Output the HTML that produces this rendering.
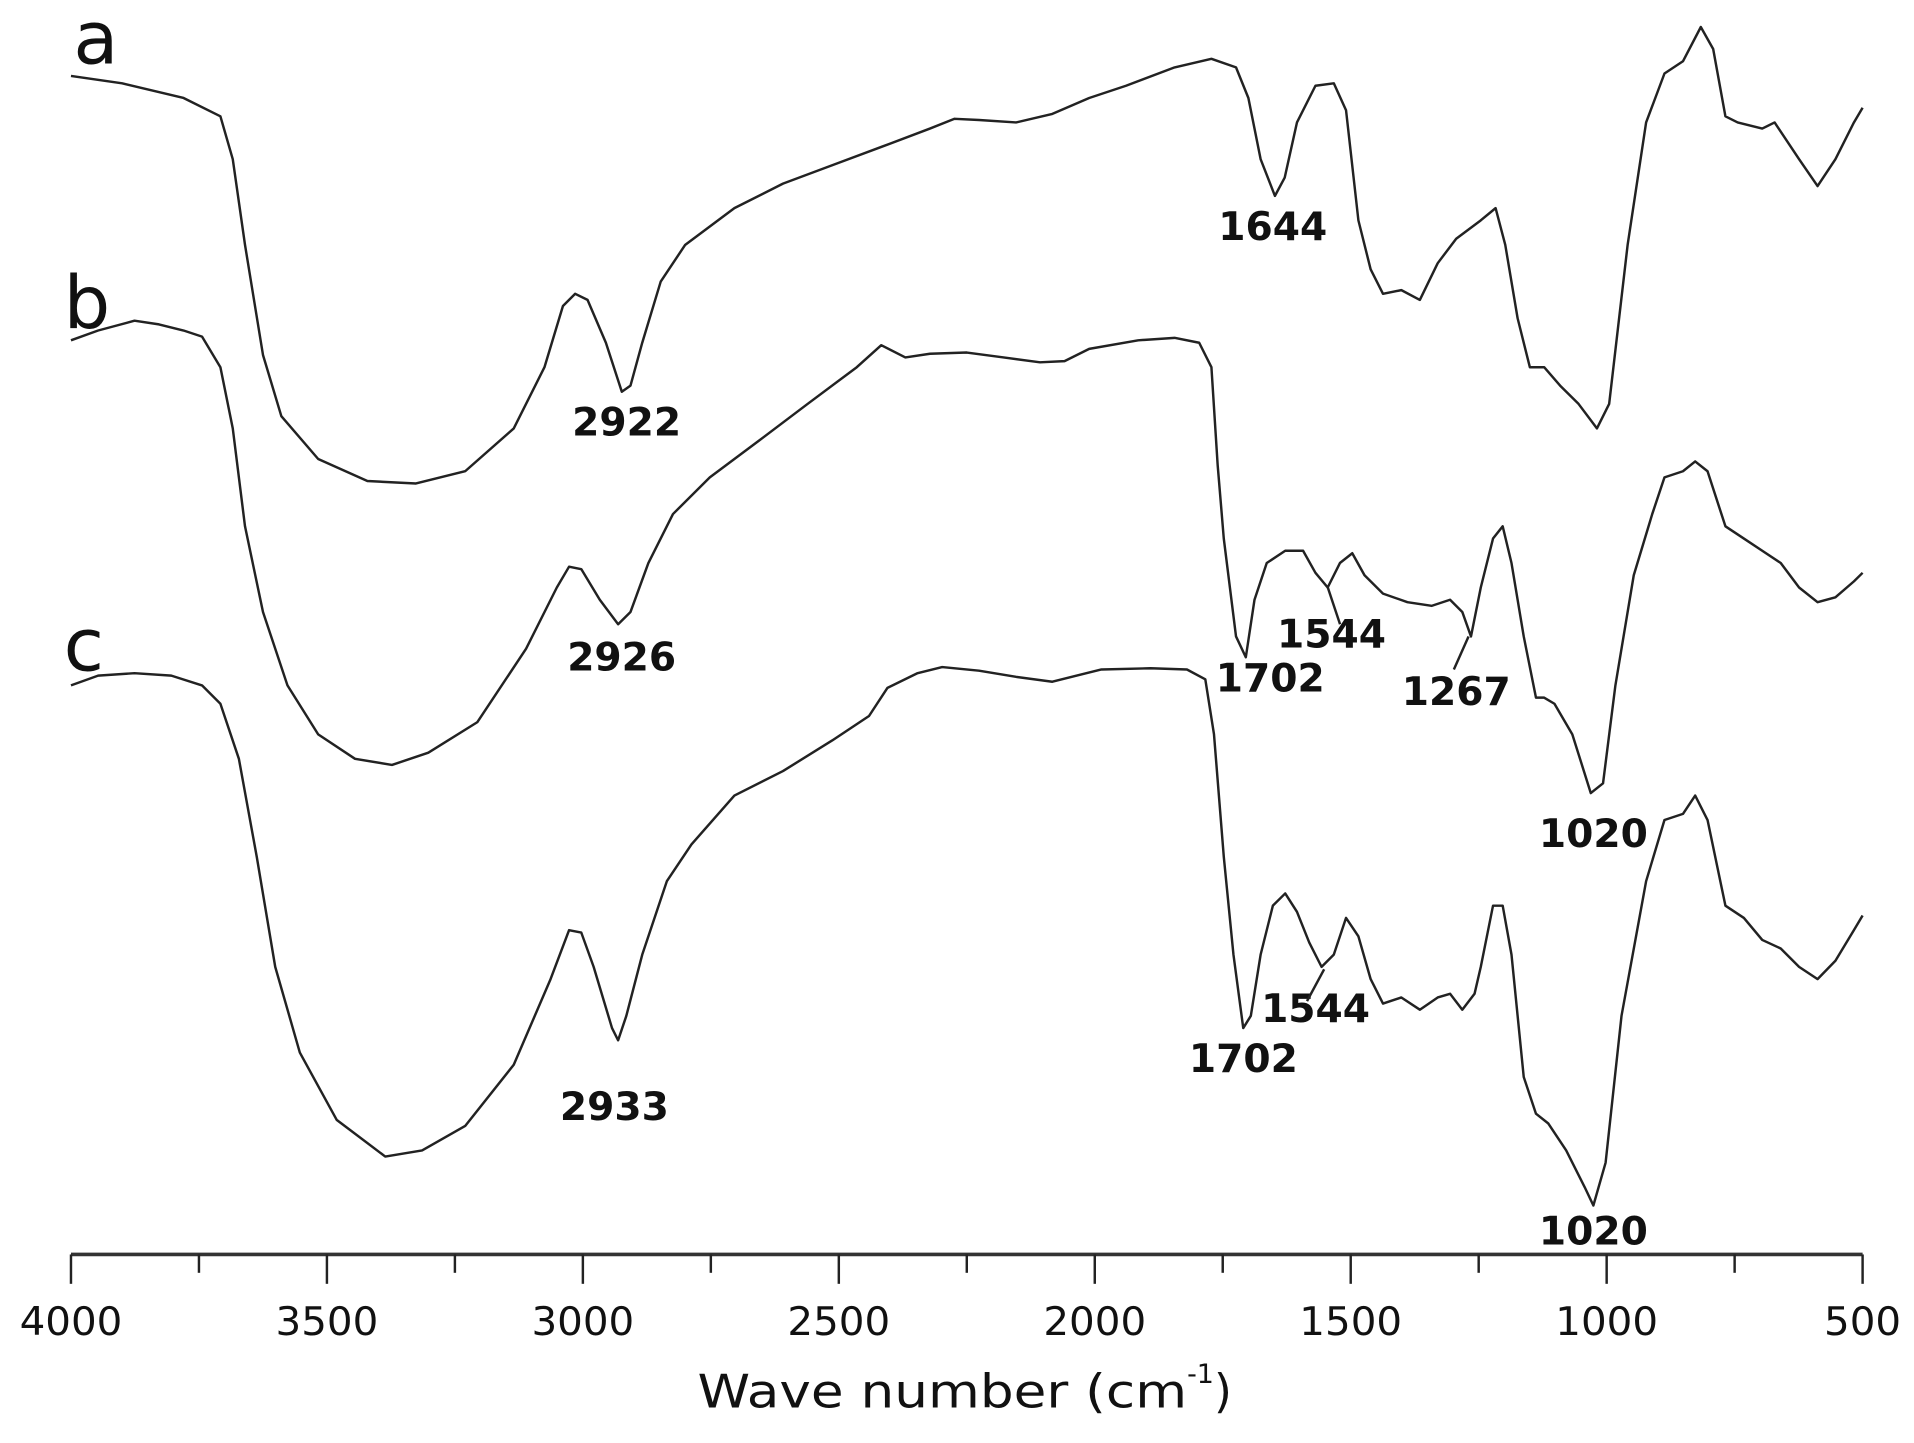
<!DOCTYPE html>
<html><head><meta charset="utf-8"><style>
html,body{margin:0;padding:0;background:#fff;}
svg{display:block;}
text{font-family:"DejaVu Sans","Liberation Sans",sans-serif;fill:#111;}
</style></head><body>
<svg id="chart" width="1914" height="1443" viewBox="0 0 1564 1179" xmlns="http://www.w3.org/2000/svg">
<g id="axis"></g>
<g id="series"></g>
<g id="labels"></g>
</svg>
<script>
const tickValues=[4000,3500,3000,2500,2000,1500,1000,500];
const minorTicks=[3750,3250,2750,2250,1750,1250,750];
const wnA=[4000,3900,3780,3708,3684,3660,3625,3589,3517,3421,3326,3230,3135,3075,3039,3015,2991,2955,2924,2907,2884,2848,2800,2704,2609,2513,2417,2322,2274,2226,2154,2083,2011,1939,1844,1772,1724,1700,1676,1648,1629,1605,1569,1533,1509,1485,1461,1437,1401,1365,1330,1294,1246,1217,1198,1174,1150,1122,1091,1055,1019,995,959,923,887,851,816,792,768,744,696,672,648,624,588,553,517,500];
const valA=[96.3,95.7,94.5,93,89.5,82.5,73.5,68.5,65,63.2,63,64,67.5,72.5,77.5,78.5,78,74.5,70.5,71,74.5,79.5,82.5,85.5,87.5,89,90.5,92,92.8,92.7,92.5,93.2,94.5,95.5,97,97.7,97,94.5,89.5,86.5,88,92.5,95.5,95.7,93.5,84.5,80.5,78.5,78.8,78,81,83,84.5,85.5,82.5,76.5,72.5,72.5,71,69.5,67.5,69.5,82.5,92.5,96.5,97.5,100.3,98.5,93,92.5,92,92.5,91,89.5,87.3,89.5,92.5,93.7];
const wnB=[4000,3947,3876,3828,3780,3744,3708,3684,3660,3625,3577,3517,3445,3373,3302,3206,3111,3051,3027,3003,2967,2931,2907,2872,2824,2752,2656,2561,2465,2417,2370,2322,2250,2178,2107,2059,2011,1915,1844,1796,1772,1760,1748,1724,1705,1688,1664,1628,1593,1569,1545,1521,1497,1473,1437,1389,1342,1306,1282,1265,1246,1222,1203,1186,1162,1138,1122,1102,1067,1031,1007,983,947,911,887,851,827,803,768,732,696,660,624,588,553,517,500];
const valB=[74.7,75.5,76.3,76,75.5,75,72.5,67.5,59.5,52.5,46.5,42.5,40.5,40,41,43.5,49.5,54.5,56.2,56,53.5,51.5,52.5,56.5,60.5,63.5,66.5,69.5,72.5,74.3,73.3,73.6,73.7,73.3,72.9,73,74,74.7,74.9,74.5,72.5,64.5,58.5,50.5,48.8,53.5,56.5,57.5,57.5,55.7,54.5,56.5,57.3,55.5,54,53.3,53,53.5,52.5,50.5,54.5,58.5,59.5,56.5,50.5,45.5,45.5,45,42.5,37.7,38.5,46.5,55.5,60.5,63.5,64,64.8,64,59.5,58.5,57.5,56.5,54.5,53.3,53.7,55,55.7];
const wnC=[4000,3947,3876,3804,3744,3708,3672,3637,3601,3553,3481,3386,3314,3230,3135,3063,3027,3003,2979,2943,2931,2915,2884,2836,2788,2704,2609,2513,2441,2405,2346,2298,2226,2154,2083,2035,1987,1891,1820,1784,1767,1748,1729,1710,1695,1676,1652,1628,1605,1581,1557,1533,1509,1485,1461,1437,1401,1365,1330,1306,1282,1258,1246,1222,1203,1186,1162,1138,1114,1079,1043,1026,1002,971,923,887,851,827,803,768,732,696,660,624,588,553,517,500];
const valC=[46.5,47.3,47.5,47.3,46.5,45,40.5,32.5,23.5,16.5,11,8,8.5,10.5,15.5,22.5,26.5,26.3,23.5,18.5,17.5,19.5,24.5,30.5,33.5,37.5,39.5,42,44,46.3,47.5,48,47.7,47.2,46.8,47.3,47.8,47.9,47.8,47,42.5,32.5,24.5,18.5,19.5,24.5,28.5,29.5,28,25.5,23.5,24.5,27.5,26,22.5,20.5,21,20,21,21.3,20,21.3,23.5,28.5,28.5,24.5,14.5,11.5,10.7,8.5,5.5,4,7.5,19.5,30.5,35.5,36,37.5,35.5,28.5,27.5,25.7,25,23.5,22.5,24,26.5,27.7];
const peakLabels=["1644","2922","2926","1702","1544","1267","1020","2933","1702","1544","1020"];

const NS="http://www.w3.org/2000/svg";
const X0=58,X1=1522,AXY=1025;
function xs(w){return X0+(4000-w)/3500*(X1-X0);}
function ys(v){return AXY-v*10;}
function mk(tag,attrs,parent){const e=document.createElementNS(NS,tag);for(const k in attrs)e.setAttribute(k,attrs[k]);parent.appendChild(e);return e;}

const axis=document.getElementById('axis');
const al=mk('line',{x1:X0,y1:AXY,x2:X1,y2:AXY,stroke:'#333','stroke-width':3},axis);


tickValues.forEach(t=>{
  const l=mk('line',{x1:xs(t),y1:AXY,x2:xs(t),y2:AXY+24,stroke:'#222','stroke-width':2},axis);
  
  
  const s=String(t);
  const tx=mk('text',{x:xs(t),y:AXY+66,'text-anchor':'middle','font-size':32,'font-family':'Liberation Sans, sans-serif',textLength:s.length*21,lengthAdjust:'spacingAndGlyphs'},axis);
  tx.textContent=s;
  
  
});
minorTicks.forEach(t=>{
  const l=mk('line',{x1:xs(t),y1:AXY,x2:xs(t),y2:AXY+15,stroke:'#222','stroke-width':2},axis);
  
  
});
const title=mk('text',{x:570,y:1150,'font-size':38,'font-family':'Liberation Sans, sans-serif'},axis);
title.innerHTML='<tspan textLength="400" lengthAdjust="spacingAndGlyphs">Wave number (cm</tspan><tspan font-size="22" dy="-20">-1</tspan><tspan dy="20">)</tspan>';



const ser=document.getElementById('series');
[[wnA,valA,'spectrum-a'],[wnB,valB,'spectrum-b'],[wnC,valC,'spectrum-c']].forEach(([w,v,n])=>{
  const d=w.map((wi,i)=>(i?'L':'M')+xs(wi).toFixed(1)+','+ys(v[i]).toFixed(1)).join('');
  const p=mk('path',{d:d,fill:'none',stroke:'#222','stroke-width':2,'stroke-linejoin':'round'},ser);
  
  
});

const lab=document.getElementById('labels');
[['a',60,52],['b',52,268],['c',52,548]].forEach(([s,x,y])=>{
  const t=mk('text',{x:x,y:y,'font-size':60},lab);t.textContent=s;
  
  
});
const pos=[[1040,196],[512,356],[508,548],[1038,565],[1088,529],[1190,576],[1302,692],[502,915],[1016,876],[1075,835],[1302,1017]];
peakLabels.forEach((s,i)=>{
  const t=mk('text',{x:pos[i][0],y:pos[i][1],'text-anchor':'middle','font-size':32,'font-weight':'bold'},lab);
  t.textContent=s;
  
  
});
[[1085,480,1095,510],[1200,520,1188,547],[1082,792,1068,818]].forEach(c=>{
  const l=mk('line',{x1:c[0],y1:c[1],x2:c[2],y2:c[3],stroke:'#222','stroke-width':2},lab);
  
  
});
</script>
</body></html>
